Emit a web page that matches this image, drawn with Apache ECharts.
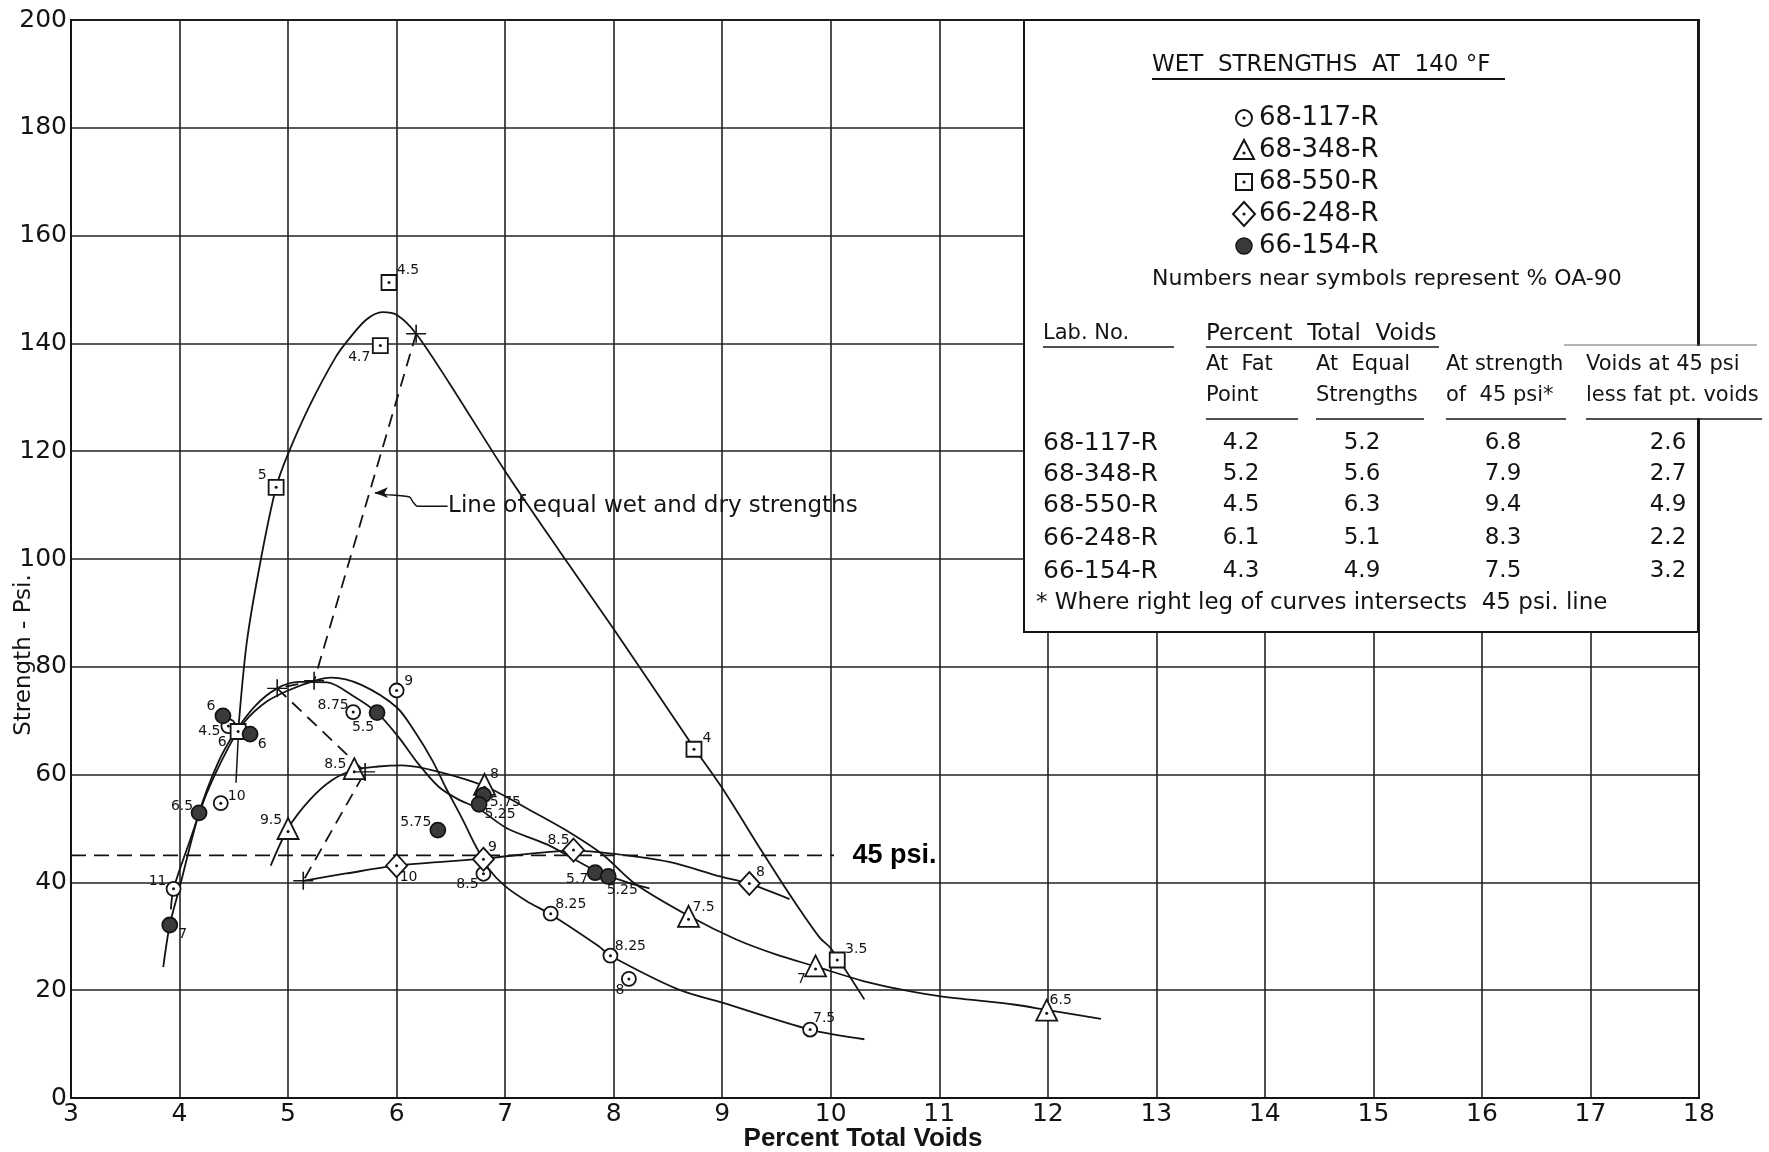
<!DOCTYPE html>
<html><head><meta charset="utf-8">
<script src="https://cdn.jsdelivr.net/npm/echarts@6/dist/echarts.min.js"></script>
<style>html,body{margin:0;padding:0;background:#fff}#c{width:1769px;height:1152px}</style>
</head><body><div id="c"></div>
<script>
// ---------------- DATA ----------------
// 68-117-R (open circle)
const c117X = [3.945, 4.38, 4.45, 5.60, 6.00, 6.80, 7.42, 7.97, 8.14, 9.81];
const c117Y = [38.8, 54.7, 69.0, 71.6, 75.6, 41.6, 34.2, 26.4, 22.1, 12.7];
const c117L = ['11', '10', '4.5', '8.75', '9', '8.5', '8.25', '8.25', '8', '7.5'];
// 68-348-R (triangle)
const t348X = [5.00, 5.61, 6.81, 8.69, 9.86, 11.99];
const t348Y = [50.0, 61.1, 58.2, 33.7, 24.5, 16.3];
const t348L = ['9.5', '8.5', '8', '7.5', '7', '6.5'];
// 68-550-R (square)
const s550X = [4.54, 4.89, 5.85, 5.93, 8.74, 10.06];
const s550Y = [68.0, 113.3, 139.6, 151.3, 64.7, 25.6];
const s550L = ['6', '5', '4.7', '4.5', '4', '3.5'];
// 66-248-R (diamond)
const d248X = [6.00, 6.80, 7.63, 9.25];
const d248Y = [43.1, 44.3, 46.0, 39.8];
const d248L = ['10', '9', '8.5', '8'];
// 66-154-R (hatched circle)
const h154X = [3.91, 4.18, 4.40, 4.65, 5.82, 6.38, 6.80, 6.76, 7.83, 7.95];
const h154Y = [32.1, 52.9, 70.9, 67.5, 71.5, 49.7, 56.2, 54.5, 41.8, 41.1];
const h154L = ['7', '6.5', '6', '6', '5.5', '5.75', '5.75', '5.25', '5.7', '5.25'];

// hand-drawn curves
const curve117 = [[3.92,35],[3.945,38.8],[4.1,48],[4.25,56.5],[4.45,65],[4.6,69.8],[4.8,73.5],[5.0,75.6],[5.24,77.4],[5.4,78],[5.67,76.7],[6.0,72.5],[6.17,67.9],[6.33,62.6],[6.45,57.7],[6.61,51.6],[6.73,46.7],[6.85,42.5],[7.0,39.3],[7.2,36.5],[7.41,34.2],[7.86,28.2],[7.97,26.4],[8.6,20.1],[9.0,17.7],[9.81,12.7],[10.31,10.9]];
const curve154 = [[3.85,24.3],[3.91,32.1],[4.0,39],[4.18,52.9],[4.35,62],[4.5,67.5],[4.7,72.8],[4.9,76.0],[5.1,77.2],[5.36,77.1],[5.6,74.6],[5.82,71.5],[6.02,66.9],[6.2,62],[6.39,57.7],[6.56,55.5],[6.76,53.6],[7.02,50],[7.39,47],[7.83,42.2],[8.14,39.9],[8.33,38.9]];
const curve348 = [[4.84,43.1],[5.0,50.0],[5.2,55.3],[5.4,58.9],[5.61,60.9],[5.83,61.5],[6.05,61.7],[6.39,60.5],[6.83,57.7],[7.23,53.4],[7.55,49.8],[7.89,45.3],[8.2,39.7],[8.69,33.8],[9.13,29.4],[9.5,26.6],[9.86,24.4],[10.3,21.7],[10.63,20.2],[11.0,18.9],[11.7,17.3],[12.0,16.3],[12.49,14.7]];
const curve550 = [[4.54,68],[4.62,84.6],[4.75,100],[4.89,113.3],[5.0,119.5],[5.2,128.5],[5.44,137.5],[5.56,140.8],[5.72,144.4],[5.87,145.8],[6.0,145.3],[6.18,141.8],[6.48,132.8],[7.0,116.3],[7.5,101.5],[8.0,87],[8.74,65.0],[9.0,57.5],[9.38,45.3],[9.63,37.5],[9.9,29.7],[10.0,27.8],[10.31,18.3]];
const curve248 = [[5.14,40.3],[5.55,41.7],[6.0,43.1],[6.8,44.4],[7.63,45.9],[8.0,45.3],[8.51,43.8],[8.98,41.1],[9.24,39.8],[9.62,36.9]];

// line of equal wet and dry strengths (crosses)
const equalX = [6.18, 5.24, 4.90, 5.71, 5.14];
const equalY = [141.8, 77.4, 76.0, 60.5, 40.3];
// 45 psi reference line
const psi45Line = [[3, 45], [10.03, 45]];
const psi45Label = '45 psi.';
// fat point tick of 68-550-R
const fatTick = [[4.52, 58.5], [4.54, 66.5]];
// annotation leader
const annotPath = [[6.47,109.8],[6.19,109.8],[6.15,110.6],[6.12,111.5],[5.88,112.0],[5.80,112.3]];
const annotText = 'Line of equal wet and dry strengths';

// legend / table text
const legendTitle = 'WET  STRENGTHS  AT  140 °F';
const legendNames = ['68-117-R', '68-348-R', '68-550-R', '66-248-R', '66-154-R'];
const legendNote = 'Numbers near symbols represent % OA-90';
const tabLab = ['68-117-R', '68-348-R', '68-550-R', '66-248-R', '66-154-R'];
const tabFat = ['4.2', '5.2', '4.5', '6.1', '4.3'];
const tabEqual = ['5.2', '5.6', '6.3', '5.1', '4.9'];
const tab45 = ['6.8', '7.9', '9.4', '8.3', '7.5'];
const tabDiff = ['2.6', '2.7', '4.9', '2.2', '3.2'];
const footNote = '* Where right leg of curves intersects  45 psi. line';

// ---------------- STYLE (label offsets, sizes) ----------------
const c117Off = [[-16,-8],[16,-7],[-19,5],[-20,-7],[12,-9],[-16,11],[20,-9],[20,-9],[-9,11],[14,-11]];
const t348Off = [[-17,-8],[-19,-4],[10,-10],[15,-9],[-14,13],[14,-10]];
const s550Off = [[-16,11],[-14,-12],[-21,12],[19,-12],[13,-11],[19,-11]];
const d248Off = [[12,12],[9,-12],[-15,-10],[11,-11]];
const h154Off = [[13,9],[-17,-7],[-12,-9],[12,10],[-14,15],[-22,-8],[22,7],[21,10],[-18,7],[14,14]];

const FONT = '"DejaVu Sans", sans-serif';
const BOLDFONT = '"Liberation Sans", Arial, sans-serif';
const INK = '#141414';

function pts(xs, ys) { return xs.map((x, i) => [x, ys[i]]); }
function markers(name, xs, ys, lbls, offs, symbol, size, fill) {
  return {
    type: 'scatter', name, symbol, symbolSize: size, z: 5,
    itemStyle: { color: fill, borderColor: INK, borderWidth: 1.8, opacity: 1 },
    label: { show: true, position: 'inside', formatter: '{b}', fontFamily: FONT, fontSize: 14, color: INK },
    emphasis: { disabled: true },
    data: xs.map((x, i) => ({ name: lbls[i], value: [x, ys[i]], label: { offset: offs[i] } }))
  };
}
function dots(xs, ys, off) {
  return { type: 'scatter', symbol: 'circle', symbolSize: 3, symbolOffset: off || [0, 0], z: 6, silent: true,
    itemStyle: { color: INK, opacity: 1 }, data: pts(xs, ys) };
}
function curve(data, extra) {
  return Object.assign({ type: 'line', data, smooth: 0.3, symbol: 'none', z: 3, silent: true,
    lineStyle: { color: INK, width: 1.8 } }, extra || {});
}

// ---------------- GRAPHIC (legend box & table) ----------------
const g = [];
function txt(t, x, y, size, opts) {
  opts = opts || {};
  g.push({ type: 'text', z: 12, x, y, rotation: opts.rotation || 0,
    style: { text: t, fill: INK, fontFamily: opts.family || FONT,
      fontSize: size, fontWeight: opts.weight || 'normal', align: opts.align || 'left', verticalAlign: 'middle' } });
}
function hline(x1, x2, y, w) {
  g.push({ type: 'line', z: 12, shape: { x1, y1: y, x2, y2: y }, style: { stroke: INK, lineWidth: w || 1.5 } });
}
g.push({ type: 'rect', z: 10, shape: { x: 1024, y: 20, width: 674, height: 612 }, style: { fill: '#fff', stroke: INK, lineWidth: 2 } });
g.push({ type: 'rect', z: 11, shape: { x: 1562, y: 346, width: 207, height: 72 }, style: { fill: '#fff' } });
g.push({ type: 'line', z: 12, shape: { x1: 1564, y1: 345, x2: 1757, y2: 345 }, style: { stroke: '#666', lineWidth: 1 } });

txt(legendTitle, 1152, 65, 23);
hline(1152, 1505, 79, 1.8);
const legY = [118, 150, 182, 214, 246];
const sx = 1244;
// legend symbols
g.push({ type: 'circle', z: 12, shape: { cx: sx, cy: legY[0], r: 8 }, style: { fill: '#fff', stroke: INK, lineWidth: 2 } });
g.push({ type: 'polygon', z: 12, shape: { points: [[sx - 10, legY[1] + 9], [sx, legY[1] - 10], [sx + 10, legY[1] + 9]] }, style: { fill: '#fff', stroke: INK, lineWidth: 2 } });
g.push({ type: 'rect', z: 12, shape: { x: sx - 8, y: legY[2] - 8, width: 16, height: 16 }, style: { fill: '#fff', stroke: INK, lineWidth: 2 } });
g.push({ type: 'polygon', z: 12, shape: { points: [[sx, legY[3] - 12], [sx + 11, legY[3]], [sx, legY[3] + 12], [sx - 11, legY[3]]] }, style: { fill: '#fff', stroke: INK, lineWidth: 2 } });
g.push({ type: 'circle', z: 12, shape: { cx: sx, cy: legY[4], r: 8 }, style: { fill: '#3a3a3a', stroke: INK, lineWidth: 1.5 } });
[0, 1, 2, 3].forEach(i => g.push({ type: 'circle', z: 13, shape: { cx: sx, cy: legY[i] + (i === 1 ? 3 : 0), r: 1.6 }, style: { fill: INK } }));
legendNames.forEach((n, i) => txt(n, 1259, legY[i], 26));
txt(legendNote, 1152, 279, 22);

txt('Lab. No.', 1043, 334, 21); hline(1043, 1174, 347, 1.4);
txt('Percent  Total  Voids', 1206, 334, 23); hline(1206, 1439, 347, 1.4);
txt('At  Fat', 1206, 365, 21); txt('Point', 1206, 396, 21); hline(1206, 1298, 419, 1.4);
txt('At  Equal', 1316, 365, 21); txt('Strengths', 1316, 396, 21); hline(1316, 1424, 419, 1.4);
txt('At strength', 1446, 365, 21); txt('of  45 psi*', 1446, 396, 21); hline(1446, 1566, 419, 1.4);
txt('Voids at 45 psi', 1586, 365, 21); txt('less fat pt. voids', 1586, 396, 21); hline(1586, 1762, 419, 1.4);
const rowY = [443, 474, 505, 538, 571];
tabLab.forEach((t, i) => {
  txt(t, 1043, rowY[i], 25);
  txt(tabFat[i], 1241, rowY[i], 23, { align: 'center' });
  txt(tabEqual[i], 1362, rowY[i], 23, { align: 'center' });
  txt(tab45[i], 1503, rowY[i], 23, { align: 'center' });
  txt(tabDiff[i], 1668, rowY[i], 23, { align: 'center' });
});
txt(footNote, 1036, 603, 23);
// axis titles
txt('Percent Total Voids', 863, 1139, 26, { weight: 'bold', align: 'center', family: BOLDFONT });
txt('Strength - Psi.', 24, 655, 23, { align: 'center', rotation: Math.PI / 2 });

// ---------------- CHART ----------------
const chart = echarts.init(document.getElementById('c'), null, { renderer: 'canvas' });
const axisCommon = {
  type: 'value',
  axisLine: { show: true, lineStyle: { color: INK, width: 2 } },
  axisTick: { show: false },
  splitLine: { show: true, lineStyle: { color: '#222', width: 1.6 } },
  axisLabel: { fontFamily: FONT, fontSize: 25, color: INK, margin: 4 }
};
chart.setOption({
  animation: false,
  backgroundColor: '#fff',
  grid: { left: 71, right: 70, top: 20, bottom: 54, show: true, borderColor: INK, borderWidth: 2 },
  xAxis: Object.assign({}, axisCommon, { min: 3, max: 18, interval: 1 }),
  yAxis: Object.assign({}, axisCommon, { min: 0, max: 200, interval: 20 }),
  graphic: g,
  series: [
    curve(curve117), curve(curve154), curve(curve348), curve(curve550), curve(curve248),
    curve(pts(equalX, equalY), { smooth: false, lineStyle: { color: INK, width: 1.8, type: [13, 8] } }),
    curve(psi45Line, { smooth: false, lineStyle: { color: INK, width: 1.8, type: [15, 8] } }),
    curve(fatTick, { smooth: false, lineStyle: { color: INK, width: 1.5 } }),
    curve(annotPath, { smooth: 0.2, lineStyle: { color: INK, width: 1.4 } }),
    { type: 'scatter', symbol: 'arrow', symbolSize: [8, 13], symbolRotate: 90, z: 6, silent: true,
      itemStyle: { color: INK, opacity: 1 }, data: [annotPath[annotPath.length - 1]] },
    { type: 'scatter', symbol: 'path://M0,10L20,10M10,0L10,20', symbolSize: [20, 18], z: 6, silent: true,
      itemStyle: { color: 'none', borderColor: INK, borderWidth: 1.5, opacity: 1 }, data: pts(equalX, equalY) },
    // annotation texts
    { type: 'scatter', symbolSize: 1, z: 6, silent: true, itemStyle: { color: 'rgba(0,0,0,0)', opacity: 1 },
      label: { show: true, position: 'right', distance: 0, formatter: annotText, fontFamily: FONT, fontSize: 23, color: INK },
      data: [annotPath[0]] },
    { type: 'scatter', symbolSize: 1, z: 6, silent: true, itemStyle: { color: 'rgba(0,0,0,0)', opacity: 1 },
      label: { show: true, position: 'right', distance: 18, formatter: psi45Label, fontFamily: BOLDFONT, fontWeight: 'bold', fontSize: 27, color: '#000' },
      data: [psi45Line[1]] },
    markers('68-117-R', c117X, c117Y, c117L, c117Off, 'circle', 14, '#fff'),
    markers('68-348-R', t348X, t348Y, t348L, t348Off, 'triangle', 21, '#fff'),
    markers('68-550-R', s550X, s550Y, s550L, s550Off, 'rect', 15, '#fff'),
    markers('66-248-R', d248X, d248Y, d248L, d248Off, 'diamond', [21, 23], '#fff'),
    markers('66-154-R', h154X, h154Y, h154L, h154Off, 'circle', 15, '#3a3a3a'),
    dots(c117X, c117Y), dots(t348X, t348Y, [0, 3]), dots(s550X, s550Y), dots(d248X, d248Y)
  ]
});
</script>
</body></html>
